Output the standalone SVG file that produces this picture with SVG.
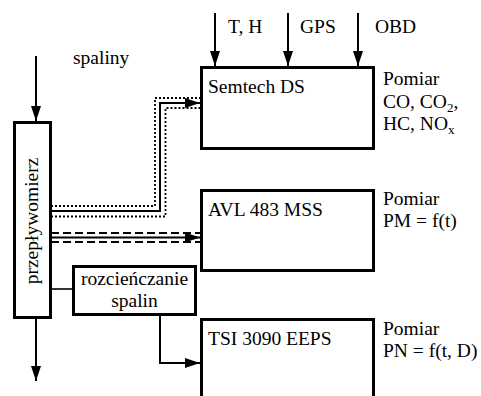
<svg xmlns="http://www.w3.org/2000/svg" width="481" height="396" viewBox="0 0 481 396">
<style>
text{font-family:"Liberation Serif","Times New Roman",serif;font-size:19.5px;fill:#000}
.box{fill:#fff;stroke:#000;stroke-width:3}
.ln{fill:none;stroke:#000;stroke-width:2}
.thin{fill:none;stroke:#000;stroke-width:1.6}
.dot{fill:none;stroke:#000;stroke-width:1.8;stroke-dasharray:2 2}
.dash{fill:none;stroke:#000;stroke-width:2;stroke-dasharray:8 4}
</style>
<defs>
<marker id="ah" markerWidth="15" markerHeight="10" refX="15" refY="5" orient="auto" markerUnits="userSpaceOnUse">
<path d="M0,0 L15,5 L0,10 Z" fill="#000"/>
</marker>
</defs>
<g id="connectors">
<line class="ln" x1="36" y1="56" x2="36" y2="121" marker-end="url(#ah)"/>
<line class="ln" x1="36" y1="318" x2="36" y2="381" marker-end="url(#ah)"/>
<line class="ln" x1="215" y1="13" x2="215" y2="66" marker-end="url(#ah)"/>
<line class="ln" x1="288" y1="13" x2="288" y2="66" marker-end="url(#ah)"/>
<line class="ln" x1="358" y1="13" x2="358" y2="66" marker-end="url(#ah)"/>
<polyline class="dot" points="51,206 155,206 155,98 201,98"/>
<polyline class="dot" points="51,216.5 165.5,216.5 165.5,108 201,108"/>
<polyline class="ln" points="51,211 160,211 160,103 200,103" marker-end="url(#ah)"/>
<line class="dash" x1="51" y1="233" x2="201" y2="233"/>
<line class="dash" x1="51" y1="242" x2="201" y2="242"/>
<line class="ln" x1="51" y1="237.5" x2="200" y2="237.5" marker-end="url(#ah)"/>
<line class="thin" x1="51" y1="289" x2="73" y2="289"/>
<polyline class="ln" points="160,315 160,363 200,363" marker-end="url(#ah)"/>
</g>
<g id="spaliny"><text x="73" y="64">spaliny</text></g>
<g id="przeplywomierz">
<rect class="box" x="14.5" y="122.5" width="36" height="195"/>
<text transform="translate(38,221) rotate(-90)" text-anchor="middle">przepływomierz</text>
</g>
<g id="inputs">
<text x="228" y="33">T, H</text>
<text x="300" y="33">GPS</text>
<text x="375" y="33">OBD</text>
</g>
<g id="semtech">
<rect class="box" x="201.5" y="67.5" width="172" height="81"/>
<text x="208" y="93">Semtech DS</text>
<text x="383" y="85">Pomiar</text>
<text x="383" y="108">CO, CO<tspan font-size="13" dy="4">2</tspan><tspan dy="-4">,</tspan></text>
<text x="383" y="130">HC, NO<tspan font-size="13" dy="4">x</tspan></text>
</g>
<g id="avl">
<rect class="box" x="201.5" y="190.5" width="172" height="80"/>
<text x="208" y="216">AVL 483 MSS</text>
<text x="383" y="205">Pomiar</text>
<text x="383" y="226.5">PM = f(t)</text>
</g>
<g id="rozcienczanie">
<rect class="box" x="73.5" y="266.5" width="122" height="48"/>
<text x="134.5" y="284.5" text-anchor="middle">rozcieńczanie</text>
<text x="134.5" y="307" text-anchor="middle">spalin</text>
</g>
<g id="tsi">
<rect class="box" x="201.5" y="319.5" width="172" height="100"/>
<text x="208" y="345">TSI 3090 EEPS</text>
<text x="383" y="335">Pomiar</text>
<text x="383" y="357">PN = f(t, D)</text>
</g>
</svg>
